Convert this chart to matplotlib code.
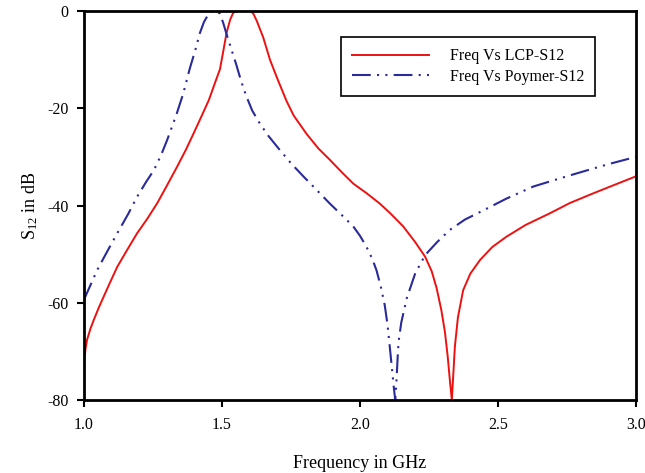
import matplotlib
matplotlib.use("Agg")
import matplotlib.pyplot as plt

plt.rcParams['font.family'] = ['Liberation Serif', 'DejaVu Serif']
plt.rcParams['mathtext.fontset'] = 'custom'
plt.rcParams['mathtext.rm'] = 'Liberation Serif'
plt.rcParams['mathtext.it'] = 'Liberation Serif:italic'

# LCP S12 (frequency GHz, dB)
lcp_freq = [1.0, 1.006, 1.012, 1.024, 1.036, 1.054, 1.072, 1.095, 1.121, 1.155, 1.193,
            1.23, 1.266, 1.30, 1.338, 1.37, 1.399, 1.425, 1.453, 1.475, 1.493, 1.505,
            1.517, 1.53, 1.541, 1.555, 1.58, 1.605, 1.615, 1.626, 1.65, 1.674, 1.70,
            1.734, 1.76, 1.807, 1.85, 1.891, 1.935, 1.976, 2.025, 2.072, 2.11, 2.157,
            2.20, 2.236, 2.26, 2.278, 2.295, 2.308, 2.318, 2.326, 2.333, 2.338, 2.344,
            2.355, 2.374, 2.40, 2.435, 2.48, 2.531, 2.60, 2.688, 2.76, 2.845, 2.92, 3.0]
lcp_db = [-72.5, -69.5, -67.5, -65.3, -63.5, -61.0, -58.7, -55.8, -52.6, -49.3, -45.7,
          -42.7, -39.5, -36.0, -32.0, -28.5, -25.0, -21.8, -18.3, -14.8, -12.0, -8.3,
          -4.5, -1.8, -0.4, 0.0, 0.0, 0.0, -0.7, -2.0, -5.5, -10.0, -13.8,
          -18.5, -21.5, -25.3, -28.3, -30.6, -33.2, -35.5, -37.5, -39.6, -41.6, -44.3,
          -47.5, -50.5, -53.5, -57.0, -61.5, -66.0, -71.0, -76.0, -80.0, -75.0, -69.0,
          -63.0, -57.4, -54.0, -51.2, -48.5, -46.4, -44.0, -41.6, -39.5, -37.5, -35.8, -34.0]

# Polymer S12
pol_freq = [1.0, 1.048, 1.085, 1.121, 1.16, 1.193, 1.225, 1.254, 1.28, 1.302, 1.336,
            1.36, 1.384, 1.405, 1.42, 1.435, 1.45, 1.467, 1.48, 1.493, 1.505, 1.517,
            1.535, 1.553, 1.57, 1.589, 1.61, 1.638, 1.67, 1.71, 1.75, 1.795, 1.845,
            1.891, 1.935, 1.976, 2.0, 2.024, 2.045, 2.06, 2.075, 2.09, 2.10, 2.109,
            2.117, 2.123, 2.128, 2.132, 2.136, 2.14, 2.15, 2.17, 2.20, 2.236, 2.28,
            2.326, 2.38, 2.447, 2.53, 2.628, 2.72, 2.809, 2.90, 3.0]
pol_db = [-59.4, -53.3, -49.4, -45.7, -41.8, -38.2, -35.2, -32.7, -29.6, -26.5, -21.2,
          -17.0, -11.8, -7.8, -4.6, -2.3, -0.8, 0.0, 0.0, -0.6, -2.5, -4.8,
          -8.0, -11.2, -14.5, -17.6, -20.5, -23.2, -25.8, -28.6, -31.3, -34.0, -36.9,
          -39.6, -42.0, -44.3, -46.2, -48.5, -51.0, -53.3, -56.5, -60.5, -64.5, -69.5,
          -74.0, -77.5, -80.0, -76.5, -72.0, -68.0, -64.0, -59.0, -54.0, -50.2, -47.5,
          -45.0, -42.9, -41.0, -38.6, -36.1, -34.5, -33.0, -31.5, -30.0]

x_ticks = [1.0, 1.5, 2.0, 2.5, 3.0]
y_ticks = [0, -20, -40, -60, -80]

fig = plt.figure(figsize=(6.45, 4.73), dpi=100)
ax = fig.add_axes([0.130, 0.154, 0.856, 0.823])

ax.plot(lcp_freq, lcp_db, color='#ee1111', lw=1.4, label='Freq Vs LCP-S12')
ax.plot(pol_freq, pol_db, color='#2a2a9a', lw=1.5, dashes=(9, 3, 1, 3, 1, 3),
        label='Freq Vs Poymer-S12')

ax.set_xlim(1.0, 3.0)
ax.set_ylim(-80, 0)
ax.set_xticks(x_ticks)
ax.set_xticklabels([f'{v:.1f}' for v in x_ticks])
ax.set_yticks(y_ticks)
ax.set_yticklabels([str(v) for v in y_ticks])
ax.tick_params(axis='x', direction='out', length=5, width=1.5, labelsize=11.5, pad=7)
ax.tick_params(axis='y', direction='out', length=5, width=1.5, labelsize=11.5, pad=6)
for s in ax.spines.values():
    s.set_linewidth(2.0)

ax.set_xlabel('Frequency in GHz', fontsize=13, labelpad=16)
ax.set_ylabel(r'$\mathregular{S_{12}}$ in dB', fontsize=13, labelpad=5)

leg = ax.legend(loc='upper right', bbox_to_anchor=(0.926, 0.933), fontsize=11.5,
                frameon=True, fancybox=False, edgecolor='black', framealpha=1,
                handlelength=4.8, handletextpad=1.3, borderpad=0.7, labelspacing=0.3,
                borderaxespad=0)
leg.get_frame().set_linewidth(1.2)

fig.savefig('out.png', dpi=100)
